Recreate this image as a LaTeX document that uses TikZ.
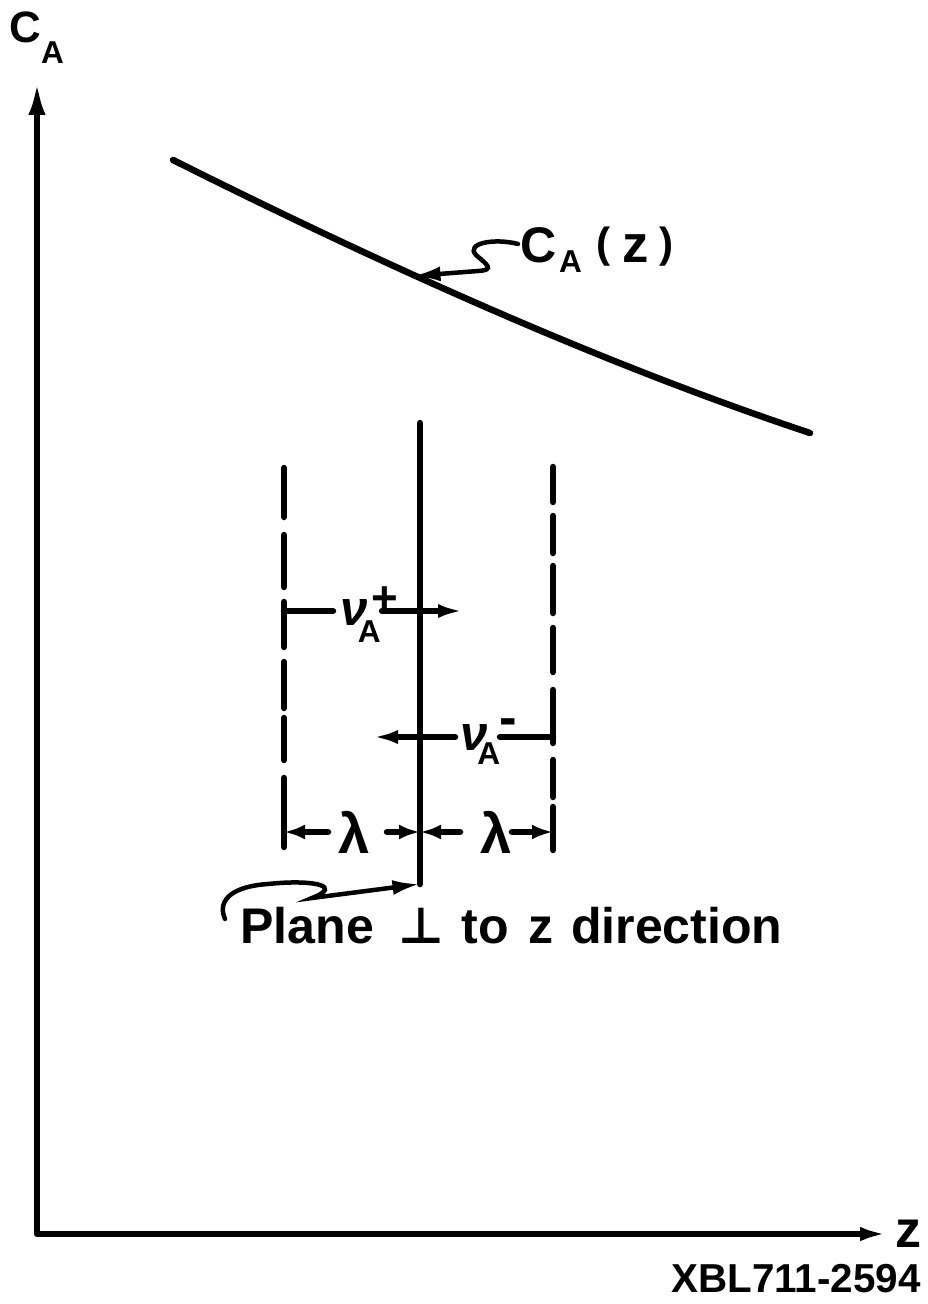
\documentclass[tikz,border=0pt]{standalone}
\usepackage{fontspec}
\setmainfont{Liberation Sans}
\newfontfamily\dejavu{DejaVu Sans}
\usetikzlibrary{arrows.meta}
\newcommand{\myfs}[1]{\fontsize{#1}{#1}\selectfont}
\begin{document}
\begin{tikzpicture}[x=0.02cm,y=-0.02cm,
  ln/.style={line width=0.13cm, line cap=round},
  lead/.style={line width=0.09cm, line cap=round, -{Latex[length=0.55cm,width=0.3cm]}},
  tipA/.style={-{Latex[length=0.5cm,width=0.28cm]}},
  tipL/.style={-{Latex[length=0.42cm,width=0.3cm]}},
  lbl/.style={inner sep=0pt, font=\bfseries}]
\useasboundingbox (0,0) rectangle (927,1304);
\fill[white] (0,0) rectangle (927,1304);

% axes
\coordinate (O) at (37,1234);
\coordinate (Ytop) at (37,80);
\coordinate (Xend) at (890,1234);
\draw[ln, line join=round, {Latex[length=0.7cm,width=0.34cm]}-{Latex[length=0.6cm,width=0.28cm]}] (Ytop) -- (O) -- (Xend);
\node[lbl, anchor=base west] (CAy) at (9,43) {\myfs{25}C\raisebox{-11.4pt}{\myfs{18}A}};
\node[lbl] (zlab) at (908,1234) {\myfs{29.6}z};
\node[lbl] (xbl) at (796,1279) {\myfs{23}XBL711-2594};

% concentration curve
\coordinate (c0) at (173,160);
\coordinate (c1) at (810,433);
\draw[ln] (c0) .. controls (383,265) and (600,363) .. (c1);
\node[lbl, anchor=base west] (CAz) at (520,262) {\myfs{28.5}C\kern1.5pt\raisebox{-5.7pt}{\myfs{18}A}\hspace{8pt}\raisebox{2.5pt}{\myfs{24}(}\hspace{7pt}{\myfs{30}z}\hspace{6pt}\raisebox{2.5pt}{\myfs{24})}};
\coordinate (lead1s) at (518,244);
\coordinate (cpt) at (413,276);
\draw[lead] (lead1s) .. controls (495,238) and (465,243) .. (476,255) .. controls (486,264) and (496,270) .. (478,271) -- (cpt);

% plane
\coordinate (ptop) at (420,423);
\coordinate (pbot) at (420,884);
\draw[ln] (ptop) -- (pbot);

% dashed planes
\foreach \a/\b in {468/517,535/587,602/647,662/708,718/760,778/847}
  \draw[ln] (284,\a) -- (284,\b);
\foreach \a/\b in {467/502,516/553,566/613,628/672,690/743,760/797,807/850}
  \draw[ln] (553,\a) -- (553,\b);

% nu_A^+
\coordinate (np0) at (284,611); \coordinate (np1) at (333,611);
\coordinate (np2) at (382,611); \coordinate (np3) at (463,611);
\draw[ln] (np0) -- (np1);
\draw[ln, tipA] (np2) -- (np3);
\node[lbl, anchor=base west] (nup) at (340,625) {\rlap{\myfs{28}\itshape ν}\rlap{\hspace*{10pt}\raisebox{-9.7pt}{\myfs{18}A}}\hspace*{17.8pt}\raisebox{6.8pt}{\myfs{26}+}};

% nu_A^-
\coordinate (nm0) at (455,737); \coordinate (nm1) at (373,737);
\coordinate (nm2) at (500,737); \coordinate (nm3) at (553,737);
\draw[ln, tipA] (nm0) -- (nm1);
\draw[ln] (nm2) -- (nm3);
\node[lbl, anchor=base west] (num) at (460,750) {\rlap{\myfs{28}\itshape ν}\rlap{\hspace*{9.7pt}\raisebox{-8.5pt}{\myfs{18}A}}\hspace*{22pt}\raisebox{8.2pt}{\myfs{30}-}};

% lambda dimensions
\coordinate (l0) at (284,832); \coordinate (l1) at (328,832);
\coordinate (l2) at (387,832); \coordinate (l3) at (420,832);
\coordinate (l4) at (460,832); \coordinate (l5) at (512,832);
\coordinate (l6) at (553,832);
\draw[ln, tipL] (l1) -- (l0);
\draw[ln, tipL] (l2) -- (l3);
\draw[ln, tipL] (l4) -- (l3);
\draw[ln, tipL] (l5) -- (l6);
\node[lbl] (lam1) at (354,832) {\myfs{32}λ};
\node[lbl] (lam2) at (496,832) {\myfs{32}λ};

% plane label
\node[lbl, anchor=base west] (plane) at (240,943) {\myfs{28.5}Plane\hspace{14pt}{\dejavu\bfseries ⊥}\hspace{10pt}to\hspace{11pt}z\hspace{10pt}direction};
\coordinate (pl0) at (225,919);
\draw[lead] (pl0) .. controls (216,898) and (236,886) .. (268,884) .. controls (305,880) and (335,884) .. (322,893) .. controls (318,896) and (314,897) .. (312,898) -- (pbot);
\end{tikzpicture}
\end{document}
